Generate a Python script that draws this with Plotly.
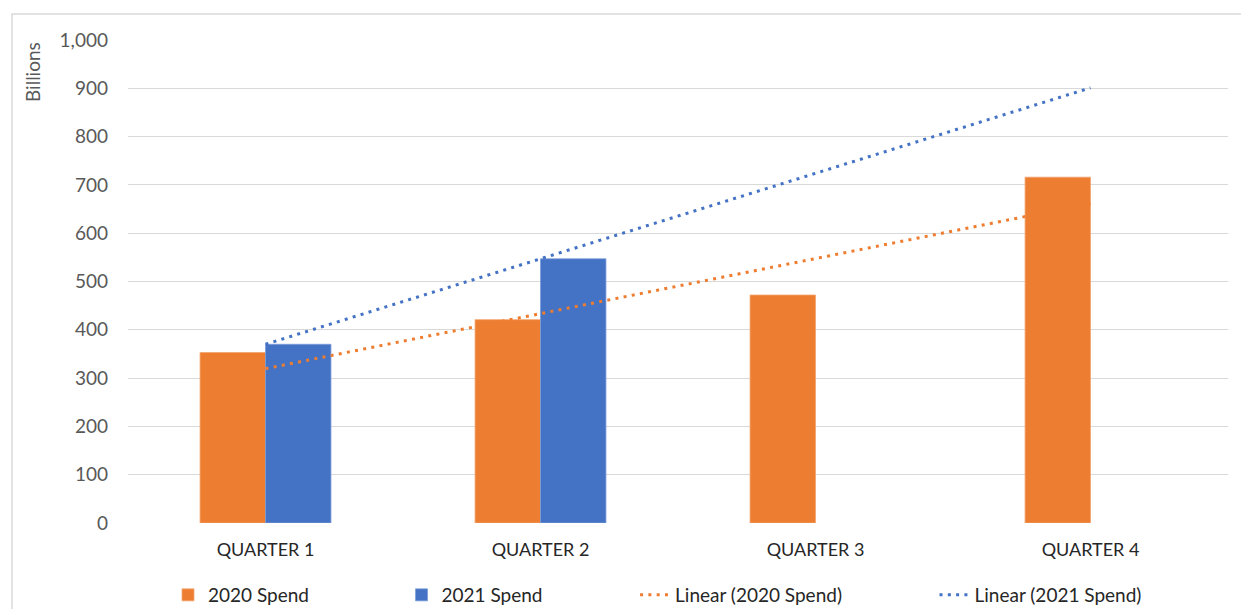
import numpy as np
import plotly.graph_objects as go

categories = ["QUARTER 1", "QUARTER 2", "QUARTER 3", "QUARTER 4"]
spend_2020 = [353, 421, 472, 716]
spend_2021 = [370, 547, None, None]
y_ticks = list(range(0, 1001, 100))
series_names = ["2020 Spend", "2021 Spend", "Linear (2020 Spend)", "Linear (2021 Spend)"]

ORANGE = "#ED7D31"
BLUE = "#4472C4"
FONT = "Lato"

def linear_trend(values):
    xs = np.array([i + 1 for i, v in enumerate(values) if v is not None], dtype=float)
    ys = np.array([v for v in values if v is not None], dtype=float)
    slope, intercept = np.polyfit(xs, ys, 1)
    allx = np.arange(1, len(values) + 1, dtype=float)
    return list(slope * allx + intercept)

trend_2020 = linear_trend(spend_2020)
trend_2021 = linear_trend(spend_2021)

# trailing non-breaking spaces widen the gap between legend entries
NB = "\u00a0"
pads = [18, 18, 18, 0]
legend_names = [n + NB * p for n, p in zip(series_names, pads)]

fig = go.Figure()
fig.add_trace(go.Bar(x=categories, y=spend_2020, name=legend_names[0],
                     marker=dict(color=ORANGE, line=dict(color="#F4A46E", width=0.8))))
fig.add_trace(go.Bar(x=categories, y=spend_2021, name=legend_names[1],
                     marker=dict(color=BLUE, line=dict(color="#7B9CD8", width=0.8))))
fig.add_trace(go.Scatter(x=categories, y=trend_2020, name=legend_names[2], mode="lines",
                         line=dict(color=ORANGE, width=3, dash="3px,5.3px")))
fig.add_trace(go.Scatter(x=categories, y=trend_2021, name=legend_names[3], mode="lines",
                         line=dict(color=BLUE, width=3, dash="3px,5.3px")))

W, H = 1241, 609
ml, mr, mt, mb = 128, 13, 40, 86
pw, ph = W - ml - mr, H - mt - mb

fig.update_layout(
    width=W, height=H,
    margin=dict(l=ml, r=mr, t=mt, b=mb, pad=0),
    paper_bgcolor="white", plot_bgcolor="white",
    barmode="group", bargap=0.524, bargroupgap=0,
    font=dict(family=FONT, size=18, color="#595959"),
    showlegend=True,
    legend=dict(orientation="h", xref="container", yref="container",
                x=168 / W, xanchor="left", y=0.023, yanchor="middle",
                font=dict(family=FONT, size=19, color="#262626"),
                itemwidth=30, traceorder="normal", bgcolor="rgba(0,0,0,0)"),
    xaxis=dict(showgrid=False, showline=False, zeroline=False, ticks="",
               tickfont=dict(family=FONT, size=18, color="#262626"),
               ticklabelstandoff=14),
    yaxis=dict(range=[0, 1000], tickvals=y_ticks, tickformat=",",
               showgrid=True, gridcolor="#D9D9D9", gridwidth=1.3,
               zeroline=False, showline=False, ticks="",
               tickfont=dict(family=FONT, size=19, color="#595959"),
               ticklabelstandoff=19),
    annotations=[dict(text="Billions", textangle=-90, xref="paper", yref="paper",
                      x=(33 - ml) / pw, y=(H - mb - 72) / ph, xanchor="center", yanchor="middle",
                      showarrow=False, font=dict(family=FONT, size=19, color="#595959"))],
    shapes=[dict(type="rect", xref="paper", yref="paper",
                 x0=(12 - ml) / pw, x1=(W + 20 - ml) / pw,
                 y0=(H - mb - (H + 20)) / ph, y1=(H - mb - 14) / ph,
                 line=dict(color="#D9D9D9", width=1.5), fillcolor="rgba(0,0,0,0)", layer="below")],
)

fig.write_html("out.html")
